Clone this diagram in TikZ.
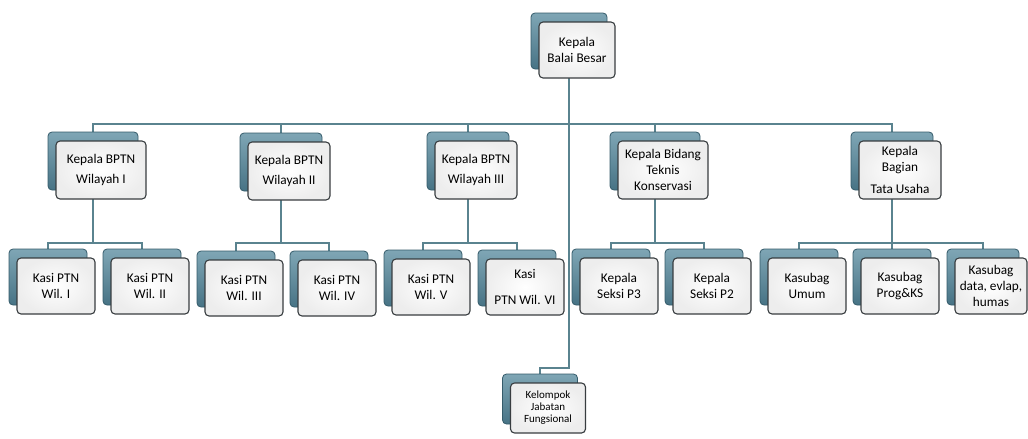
\documentclass[tikz,border=0pt]{standalone}
\usepackage{fontspec}
\setmainfont{Carlito}
\usetikzlibrary{backgrounds,calc,shadows}
\definecolor{backlight}{HTML}{7FA6B5}
\definecolor{backdark}{HTML}{477385}
\definecolor{backline}{HTML}{355B6A}
\definecolor{boxline}{HTML}{383D40}
\definecolor{connline}{HTML}{5A838F}
\tikzset{
  orgbox/.style={draw=boxline, line width=1.1pt, rounded corners=4pt,
    inner color=white, outer color=black!7, align=center, inner sep=1pt,
    font=\fontsize{13.3}{15.8}\selectfont,
    general shadow={shadow xshift=-8pt, shadow yshift=9pt, draw=backline,
      line width=0.8pt, top color=backlight, bottom color=backdark}},
  lvltwo/.style={orgbox, minimum width=86pt, minimum height=58pt},
  lvlthree/.style={orgbox, minimum width=78pt, minimum height=56pt},
  conn/.style={draw=connline, line width=1.7pt}
}
\begin{document}
\begin{tikzpicture}[x=1pt,y=-1pt]
\useasboundingbox (0,0) rectangle (1028,439);
% head
\node[orgbox, minimum width=76pt, minimum height=56pt] (kbb) at (577,50) {Kepala\\[1pt]Balai Besar};
% second row
\node[lvltwo, minimum width=90pt] (bptn1) at (101,170) {Kepala BPTN\\[5pt]Wilayah I};
\node[lvltwo, minimum width=82pt] (bptn2) at (289,171) {Kepala BPTN\\[5pt]Wilayah II};
\node[lvltwo, minimum width=82pt] (bptn3) at (476,170) {Kepala BPTN\\[5pt]Wilayah III};
\node[lvltwo, minimum width=90pt] (bidtk) at (663,170) {Kepala Bidang\\Teknis\\Konservasi};
\node[lvltwo, minimum width=82pt] (bagtu) at (900,170) {Kepala\\Bagian\\[6pt]Tata Usaha};
% third row
\node[lvlthree] (kasi1) at (56,286) {Kasi PTN\\Wil. I};
\node[lvlthree] (kasi2) at (150,286) {Kasi PTN\\Wil. II};
\node[lvlthree] (kasi3) at (244,288) {Kasi PTN\\Wil. III};
\node[lvlthree] (kasi4) at (337,288) {Kasi PTN\\Wil. IV};
\node[lvlthree] (kasi5) at (431,287) {Kasi PTN\\Wil. V};
\node[lvlthree] (kasi6) at (525,287) {Kasi\\[10pt]PTN Wil. VI};
\node[lvlthree] (seksi3) at (619,286) {Kepala\\Seksi P3};
\node[lvlthree] (seksi2) at (712,286) {Kepala\\Seksi P2};
\node[lvlthree] (sbumum) at (807,286) {Kasubag\\Umum};
\node[lvlthree] (sbprog) at (900,286) {Kasubag\\Prog\&KS};
\node[lvlthree, minimum width=72pt] (sbdata) at (991,286) {Kasubag\\data, evlap,\\humas};
% functional group
\node[orgbox, minimum width=75pt, minimum height=50pt, font=\fontsize{11}{12}\selectfont] (kjf) at (548,408) {Kelompok\\Jabatan\\Fungsional};

\coordinate (bus) at (0,124);
\coordinate (bustwo) at (0,243);
\coordinate (busjf) at (0,368);
\begin{scope}[on background layer]
\foreach \n in {bptn1,bptn2,bptn3,bidtk,bagtu}
  \draw[conn] ([xshift=-8pt]kbb.center) |- ([xshift=-8pt]\n.center |- bus) -- ([xshift=-8pt]\n.center);
\foreach \p/\c in {bptn1/kasi1,bptn1/kasi2,bptn2/kasi3,bptn2/kasi4,bptn3/kasi5,bptn3/kasi6,
    bidtk/seksi3,bidtk/seksi2,bagtu/sbumum,bagtu/sbprog,bagtu/sbdata}
  \draw[conn] ([xshift=-8pt]\p.center) |- ([xshift=-8pt]\c.center |- bustwo) -- ([xshift=-8pt]\c.center);
\draw[conn] ([xshift=-8pt]kbb.center) -- ([xshift=-8pt]kbb.center |- busjf) -| ([xshift=-8pt]kjf.center);
\end{scope}
\end{tikzpicture}
\end{document}
